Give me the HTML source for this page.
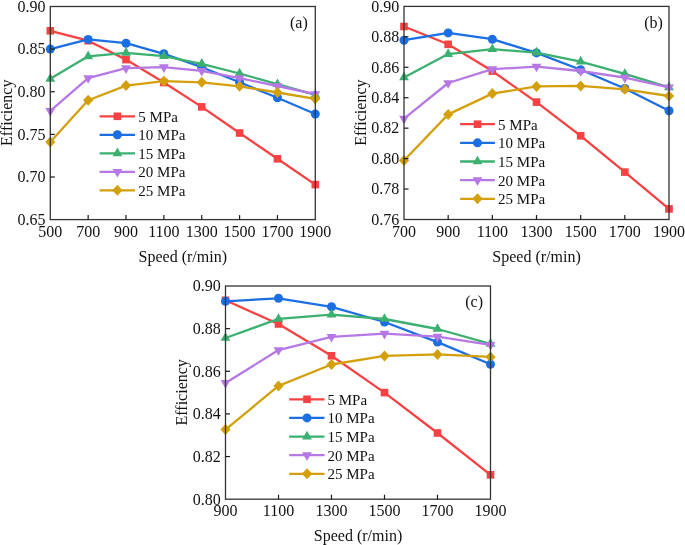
<!DOCTYPE html>
<html><head><meta charset="utf-8"><style>
html,body{margin:0;padding:0;background:#fff;}
svg{display:block;will-change:transform;}
text{font-family:"Liberation Serif", serif;font-size:16px;fill:#111;}
</style></head><body>
<svg width="685" height="545" viewBox="0 0 685 545">
<rect width="685" height="545" fill="#fff"/>
<polyline points="50.30,30.80 88.16,40.70 126.01,59.60 163.87,82.50 201.73,106.90 239.59,133.00 277.44,158.80 315.30,184.60" fill="none" stroke="#F64242" stroke-width="2.3" stroke-linejoin="round"/>
<rect x="46.50" y="27.00" width="7.60" height="7.60" fill="#F64242"/>
<rect x="84.36" y="36.90" width="7.60" height="7.60" fill="#F64242"/>
<rect x="122.21" y="55.80" width="7.60" height="7.60" fill="#F64242"/>
<rect x="160.07" y="78.70" width="7.60" height="7.60" fill="#F64242"/>
<rect x="197.93" y="103.10" width="7.60" height="7.60" fill="#F64242"/>
<rect x="235.79" y="129.20" width="7.60" height="7.60" fill="#F64242"/>
<rect x="273.64" y="155.00" width="7.60" height="7.60" fill="#F64242"/>
<rect x="311.50" y="180.80" width="7.60" height="7.60" fill="#F64242"/>
<polyline points="50.30,49.10 88.16,39.40 126.01,43.20 163.87,53.80 201.73,67.20 239.59,82.20 277.44,97.80 315.30,114.00" fill="none" stroke="#1C6EE3" stroke-width="2.3" stroke-linejoin="round"/>
<circle cx="50.30" cy="49.10" r="4.5" fill="#1C6EE3"/>
<circle cx="88.16" cy="39.40" r="4.5" fill="#1C6EE3"/>
<circle cx="126.01" cy="43.20" r="4.5" fill="#1C6EE3"/>
<circle cx="163.87" cy="53.80" r="4.5" fill="#1C6EE3"/>
<circle cx="201.73" cy="67.20" r="4.5" fill="#1C6EE3"/>
<circle cx="239.59" cy="82.20" r="4.5" fill="#1C6EE3"/>
<circle cx="277.44" cy="97.80" r="4.5" fill="#1C6EE3"/>
<circle cx="315.30" cy="114.00" r="4.5" fill="#1C6EE3"/>
<polyline points="50.30,78.80 88.16,56.30 126.01,52.80 163.87,56.20 201.73,63.80 239.59,73.50 277.44,84.20 315.30,94.80" fill="none" stroke="#3BB070" stroke-width="2.3" stroke-linejoin="round"/>
<path d="M50.30,73.07 L55.20,81.67 L45.40,81.67 Z" fill="#3BB070"/>
<path d="M88.16,50.57 L93.06,59.17 L83.26,59.17 Z" fill="#3BB070"/>
<path d="M126.01,47.07 L130.91,55.67 L121.11,55.67 Z" fill="#3BB070"/>
<path d="M163.87,50.47 L168.77,59.07 L158.97,59.07 Z" fill="#3BB070"/>
<path d="M201.73,58.07 L206.63,66.67 L196.83,66.67 Z" fill="#3BB070"/>
<path d="M239.59,67.77 L244.49,76.37 L234.69,76.37 Z" fill="#3BB070"/>
<path d="M277.44,78.47 L282.34,87.07 L272.54,87.07 Z" fill="#3BB070"/>
<path d="M315.30,89.07 L320.20,97.67 L310.40,97.67 Z" fill="#3BB070"/>
<polyline points="50.30,110.90 88.16,78.10 126.01,68.20 163.87,67.20 201.73,70.80 239.59,78.20 277.44,86.00 315.30,94.20" fill="none" stroke="#B678E4" stroke-width="2.3" stroke-linejoin="round"/>
<path d="M45.40,108.03 L55.20,108.03 L50.30,116.63 Z" fill="#B678E4"/>
<path d="M83.26,75.23 L93.06,75.23 L88.16,83.83 Z" fill="#B678E4"/>
<path d="M121.11,65.33 L130.91,65.33 L126.01,73.93 Z" fill="#B678E4"/>
<path d="M158.97,64.33 L168.77,64.33 L163.87,72.93 Z" fill="#B678E4"/>
<path d="M196.83,67.93 L206.63,67.93 L201.73,76.53 Z" fill="#B678E4"/>
<path d="M234.69,75.33 L244.49,75.33 L239.59,83.93 Z" fill="#B678E4"/>
<path d="M272.54,83.13 L282.34,83.13 L277.44,91.73 Z" fill="#B678E4"/>
<path d="M310.40,91.33 L320.20,91.33 L315.30,99.93 Z" fill="#B678E4"/>
<polyline points="50.30,142.10 88.16,100.30 126.01,85.60 163.87,81.20 201.73,82.30 239.59,86.30 277.44,92.50 315.30,98.80" fill="none" stroke="#D3A00C" stroke-width="2.3" stroke-linejoin="round"/>
<path d="M50.30,136.60 L55.40,142.10 L50.30,147.60 L45.20,142.10 Z" fill="#D3A00C"/>
<path d="M88.16,94.80 L93.26,100.30 L88.16,105.80 L83.06,100.30 Z" fill="#D3A00C"/>
<path d="M126.01,80.10 L131.11,85.60 L126.01,91.10 L120.91,85.60 Z" fill="#D3A00C"/>
<path d="M163.87,75.70 L168.97,81.20 L163.87,86.70 L158.77,81.20 Z" fill="#D3A00C"/>
<path d="M201.73,76.80 L206.83,82.30 L201.73,87.80 L196.63,82.30 Z" fill="#D3A00C"/>
<path d="M239.59,80.80 L244.69,86.30 L239.59,91.80 L234.49,86.30 Z" fill="#D3A00C"/>
<path d="M277.44,87.00 L282.54,92.50 L277.44,98.00 L272.34,92.50 Z" fill="#D3A00C"/>
<path d="M315.30,93.30 L320.40,98.80 L315.30,104.30 L310.20,98.80 Z" fill="#D3A00C"/>
<rect x="50.3" y="6.5" width="265.00" height="213.10" fill="none" stroke="#333" stroke-width="1.3"/>
<line x1="88.16" y1="219.6" x2="88.16" y2="215.10" stroke="#1a1a1a" stroke-width="1.2"/>
<line x1="126.01" y1="219.6" x2="126.01" y2="215.10" stroke="#1a1a1a" stroke-width="1.2"/>
<line x1="163.87" y1="219.6" x2="163.87" y2="215.10" stroke="#1a1a1a" stroke-width="1.2"/>
<line x1="201.73" y1="219.6" x2="201.73" y2="215.10" stroke="#1a1a1a" stroke-width="1.2"/>
<line x1="239.59" y1="219.6" x2="239.59" y2="215.10" stroke="#1a1a1a" stroke-width="1.2"/>
<line x1="277.44" y1="219.6" x2="277.44" y2="215.10" stroke="#1a1a1a" stroke-width="1.2"/>
<line x1="50.3" y1="176.98" x2="54.80" y2="176.98" stroke="#1a1a1a" stroke-width="1.2"/>
<line x1="50.3" y1="134.36" x2="54.80" y2="134.36" stroke="#1a1a1a" stroke-width="1.2"/>
<line x1="50.3" y1="91.74" x2="54.80" y2="91.74" stroke="#1a1a1a" stroke-width="1.2"/>
<line x1="50.3" y1="49.12" x2="54.80" y2="49.12" stroke="#1a1a1a" stroke-width="1.2"/>
<text x="50.30" y="236.80" text-anchor="middle">500</text>
<text x="88.16" y="236.80" text-anchor="middle">700</text>
<text x="126.01" y="236.80" text-anchor="middle">900</text>
<text x="163.87" y="236.80" text-anchor="middle">1100</text>
<text x="201.73" y="236.80" text-anchor="middle">1300</text>
<text x="239.59" y="236.80" text-anchor="middle">1500</text>
<text x="277.44" y="236.80" text-anchor="middle">1700</text>
<text x="315.30" y="236.80" text-anchor="middle">1900</text>
<text x="45.50" y="224.90" text-anchor="end">0.65</text>
<text x="45.50" y="182.28" text-anchor="end">0.70</text>
<text x="45.50" y="139.66" text-anchor="end">0.75</text>
<text x="45.50" y="97.04" text-anchor="end">0.80</text>
<text x="45.50" y="54.42" text-anchor="end">0.85</text>
<text x="45.50" y="11.80" text-anchor="end">0.90</text>
<text x="182.80" y="261.80" text-anchor="middle">Speed (r/min)</text>
<text transform="translate(11.80,112.75) rotate(-90)" text-anchor="middle">Efficiency</text>
<text x="307.80" y="27.80" text-anchor="end">(a)</text>
<line x1="99.6" y1="116.30" x2="135" y2="116.30" stroke="#F64242" stroke-width="2.3"/>
<rect x="113.60" y="112.50" width="7.60" height="7.60" fill="#F64242"/>
<text x="138.3" y="121.80" style="font-size:15px">5 MPa</text>
<line x1="99.6" y1="134.80" x2="135" y2="134.80" stroke="#1C6EE3" stroke-width="2.3"/>
<circle cx="117.40" cy="134.80" r="4.5" fill="#1C6EE3"/>
<text x="138.3" y="140.30" style="font-size:15px">10 MPa</text>
<line x1="99.6" y1="153.30" x2="135" y2="153.30" stroke="#3BB070" stroke-width="2.3"/>
<path d="M117.40,147.57 L122.30,156.17 L112.50,156.17 Z" fill="#3BB070"/>
<text x="138.3" y="158.80" style="font-size:15px">15 MPa</text>
<line x1="99.6" y1="171.80" x2="135" y2="171.80" stroke="#B678E4" stroke-width="2.3"/>
<path d="M112.50,168.93 L122.30,168.93 L117.40,177.53 Z" fill="#B678E4"/>
<text x="138.3" y="177.30" style="font-size:15px">20 MPa</text>
<line x1="99.6" y1="190.30" x2="135" y2="190.30" stroke="#D3A00C" stroke-width="2.3"/>
<path d="M117.40,184.80 L122.50,190.30 L117.40,195.80 L112.30,190.30 Z" fill="#D3A00C"/>
<text x="138.3" y="195.80" style="font-size:15px">25 MPa</text>
<polyline points="404.00,26.50 448.17,44.30 492.33,71.10 536.50,102.10 580.67,135.80 624.83,172.10 669.00,208.90" fill="none" stroke="#F64242" stroke-width="2.3" stroke-linejoin="round"/>
<rect x="400.20" y="22.70" width="7.60" height="7.60" fill="#F64242"/>
<rect x="444.37" y="40.50" width="7.60" height="7.60" fill="#F64242"/>
<rect x="488.53" y="67.30" width="7.60" height="7.60" fill="#F64242"/>
<rect x="532.70" y="98.30" width="7.60" height="7.60" fill="#F64242"/>
<rect x="576.87" y="132.00" width="7.60" height="7.60" fill="#F64242"/>
<rect x="621.03" y="168.30" width="7.60" height="7.60" fill="#F64242"/>
<rect x="665.20" y="205.10" width="7.60" height="7.60" fill="#F64242"/>
<polyline points="404.00,40.20 448.17,32.90 492.33,39.20 536.50,52.90 580.67,69.70 624.83,88.50 669.00,110.70" fill="none" stroke="#1C6EE3" stroke-width="2.3" stroke-linejoin="round"/>
<circle cx="404.00" cy="40.20" r="4.5" fill="#1C6EE3"/>
<circle cx="448.17" cy="32.90" r="4.5" fill="#1C6EE3"/>
<circle cx="492.33" cy="39.20" r="4.5" fill="#1C6EE3"/>
<circle cx="536.50" cy="52.90" r="4.5" fill="#1C6EE3"/>
<circle cx="580.67" cy="69.70" r="4.5" fill="#1C6EE3"/>
<circle cx="624.83" cy="88.50" r="4.5" fill="#1C6EE3"/>
<circle cx="669.00" cy="110.70" r="4.5" fill="#1C6EE3"/>
<polyline points="404.00,77.50 448.17,54.10 492.33,49.20 536.50,52.60 580.67,61.60 624.83,73.90 669.00,87.30" fill="none" stroke="#3BB070" stroke-width="2.3" stroke-linejoin="round"/>
<path d="M404.00,71.77 L408.90,80.37 L399.10,80.37 Z" fill="#3BB070"/>
<path d="M448.17,48.37 L453.07,56.97 L443.27,56.97 Z" fill="#3BB070"/>
<path d="M492.33,43.47 L497.23,52.07 L487.43,52.07 Z" fill="#3BB070"/>
<path d="M536.50,46.87 L541.40,55.47 L531.60,55.47 Z" fill="#3BB070"/>
<path d="M580.67,55.87 L585.57,64.47 L575.77,64.47 Z" fill="#3BB070"/>
<path d="M624.83,68.17 L629.73,76.77 L619.93,76.77 Z" fill="#3BB070"/>
<path d="M669.00,81.57 L673.90,90.17 L664.10,90.17 Z" fill="#3BB070"/>
<polyline points="404.00,118.70 448.17,83.00 492.33,69.20 536.50,66.60 580.67,71.00 624.83,77.70 669.00,87.30" fill="none" stroke="#B678E4" stroke-width="2.3" stroke-linejoin="round"/>
<path d="M399.10,115.83 L408.90,115.83 L404.00,124.43 Z" fill="#B678E4"/>
<path d="M443.27,80.13 L453.07,80.13 L448.17,88.73 Z" fill="#B678E4"/>
<path d="M487.43,66.33 L497.23,66.33 L492.33,74.93 Z" fill="#B678E4"/>
<path d="M531.60,63.73 L541.40,63.73 L536.50,72.33 Z" fill="#B678E4"/>
<path d="M575.77,68.13 L585.57,68.13 L580.67,76.73 Z" fill="#B678E4"/>
<path d="M619.93,74.83 L629.73,74.83 L624.83,83.43 Z" fill="#B678E4"/>
<path d="M664.10,84.43 L673.90,84.43 L669.00,93.03 Z" fill="#B678E4"/>
<polyline points="404.00,160.50 448.17,114.40 492.33,93.60 536.50,86.40 580.67,85.90 624.83,89.30 669.00,96.00" fill="none" stroke="#D3A00C" stroke-width="2.3" stroke-linejoin="round"/>
<path d="M404.00,155.00 L409.10,160.50 L404.00,166.00 L398.90,160.50 Z" fill="#D3A00C"/>
<path d="M448.17,108.90 L453.27,114.40 L448.17,119.90 L443.07,114.40 Z" fill="#D3A00C"/>
<path d="M492.33,88.10 L497.43,93.60 L492.33,99.10 L487.23,93.60 Z" fill="#D3A00C"/>
<path d="M536.50,80.90 L541.60,86.40 L536.50,91.90 L531.40,86.40 Z" fill="#D3A00C"/>
<path d="M580.67,80.40 L585.77,85.90 L580.67,91.40 L575.57,85.90 Z" fill="#D3A00C"/>
<path d="M624.83,83.80 L629.93,89.30 L624.83,94.80 L619.73,89.30 Z" fill="#D3A00C"/>
<path d="M669.00,90.50 L674.10,96.00 L669.00,101.50 L663.90,96.00 Z" fill="#D3A00C"/>
<rect x="404.0" y="6.4" width="265.00" height="213.10" fill="none" stroke="#333" stroke-width="1.3"/>
<line x1="448.17" y1="219.5" x2="448.17" y2="215.00" stroke="#1a1a1a" stroke-width="1.2"/>
<line x1="492.33" y1="219.5" x2="492.33" y2="215.00" stroke="#1a1a1a" stroke-width="1.2"/>
<line x1="536.50" y1="219.5" x2="536.50" y2="215.00" stroke="#1a1a1a" stroke-width="1.2"/>
<line x1="580.67" y1="219.5" x2="580.67" y2="215.00" stroke="#1a1a1a" stroke-width="1.2"/>
<line x1="624.83" y1="219.5" x2="624.83" y2="215.00" stroke="#1a1a1a" stroke-width="1.2"/>
<line x1="404.0" y1="189.06" x2="408.50" y2="189.06" stroke="#1a1a1a" stroke-width="1.2"/>
<line x1="404.0" y1="158.61" x2="408.50" y2="158.61" stroke="#1a1a1a" stroke-width="1.2"/>
<line x1="404.0" y1="128.17" x2="408.50" y2="128.17" stroke="#1a1a1a" stroke-width="1.2"/>
<line x1="404.0" y1="97.73" x2="408.50" y2="97.73" stroke="#1a1a1a" stroke-width="1.2"/>
<line x1="404.0" y1="67.29" x2="408.50" y2="67.29" stroke="#1a1a1a" stroke-width="1.2"/>
<line x1="404.0" y1="36.84" x2="408.50" y2="36.84" stroke="#1a1a1a" stroke-width="1.2"/>
<text x="404.00" y="236.70" text-anchor="middle">700</text>
<text x="448.17" y="236.70" text-anchor="middle">900</text>
<text x="492.33" y="236.70" text-anchor="middle">1100</text>
<text x="536.50" y="236.70" text-anchor="middle">1300</text>
<text x="580.67" y="236.70" text-anchor="middle">1500</text>
<text x="624.83" y="236.70" text-anchor="middle">1700</text>
<text x="669.00" y="236.70" text-anchor="middle">1900</text>
<text x="399.20" y="224.80" text-anchor="end">0.76</text>
<text x="399.20" y="194.36" text-anchor="end">0.78</text>
<text x="399.20" y="163.91" text-anchor="end">0.80</text>
<text x="399.20" y="133.47" text-anchor="end">0.82</text>
<text x="399.20" y="103.03" text-anchor="end">0.84</text>
<text x="399.20" y="72.59" text-anchor="end">0.86</text>
<text x="399.20" y="42.14" text-anchor="end">0.88</text>
<text x="399.20" y="11.70" text-anchor="end">0.90</text>
<text x="536.50" y="261.70" text-anchor="middle">Speed (r/min)</text>
<text transform="translate(365.50,112.65) rotate(-90)" text-anchor="middle">Efficiency</text>
<text x="662.90" y="27.70" text-anchor="end">(b)</text>
<line x1="460.1" y1="124.20" x2="494.9" y2="124.20" stroke="#F64242" stroke-width="2.3"/>
<rect x="473.70" y="120.40" width="7.60" height="7.60" fill="#F64242"/>
<text x="498.1" y="129.70" style="font-size:15px">5 MPa</text>
<line x1="460.1" y1="142.85" x2="494.9" y2="142.85" stroke="#1C6EE3" stroke-width="2.3"/>
<circle cx="477.50" cy="142.85" r="4.5" fill="#1C6EE3"/>
<text x="498.1" y="148.35" style="font-size:15px">10 MPa</text>
<line x1="460.1" y1="161.50" x2="494.9" y2="161.50" stroke="#3BB070" stroke-width="2.3"/>
<path d="M477.50,155.77 L482.40,164.37 L472.60,164.37 Z" fill="#3BB070"/>
<text x="498.1" y="167.00" style="font-size:15px">15 MPa</text>
<line x1="460.1" y1="180.15" x2="494.9" y2="180.15" stroke="#B678E4" stroke-width="2.3"/>
<path d="M472.60,177.28 L482.40,177.28 L477.50,185.88 Z" fill="#B678E4"/>
<text x="498.1" y="185.65" style="font-size:15px">20 MPa</text>
<line x1="460.1" y1="198.80" x2="494.9" y2="198.80" stroke="#D3A00C" stroke-width="2.3"/>
<path d="M477.50,193.30 L482.60,198.80 L477.50,204.30 L472.40,198.80 Z" fill="#D3A00C"/>
<text x="498.1" y="204.30" style="font-size:15px">25 MPa</text>
<polyline points="225.50,300.30 278.50,324.00 331.50,355.80 384.50,392.60 437.50,433.00 490.50,474.80" fill="none" stroke="#F64242" stroke-width="2.3" stroke-linejoin="round"/>
<rect x="221.70" y="296.50" width="7.60" height="7.60" fill="#F64242"/>
<rect x="274.70" y="320.20" width="7.60" height="7.60" fill="#F64242"/>
<rect x="327.70" y="352.00" width="7.60" height="7.60" fill="#F64242"/>
<rect x="380.70" y="388.80" width="7.60" height="7.60" fill="#F64242"/>
<rect x="433.70" y="429.20" width="7.60" height="7.60" fill="#F64242"/>
<rect x="486.70" y="471.00" width="7.60" height="7.60" fill="#F64242"/>
<polyline points="225.50,301.30 278.50,298.30 331.50,306.80 384.50,322.00 437.50,342.10 490.50,364.30" fill="none" stroke="#1C6EE3" stroke-width="2.3" stroke-linejoin="round"/>
<circle cx="225.50" cy="301.30" r="4.5" fill="#1C6EE3"/>
<circle cx="278.50" cy="298.30" r="4.5" fill="#1C6EE3"/>
<circle cx="331.50" cy="306.80" r="4.5" fill="#1C6EE3"/>
<circle cx="384.50" cy="322.00" r="4.5" fill="#1C6EE3"/>
<circle cx="437.50" cy="342.10" r="4.5" fill="#1C6EE3"/>
<circle cx="490.50" cy="364.30" r="4.5" fill="#1C6EE3"/>
<polyline points="225.50,338.00 278.50,318.90 331.50,314.60 384.50,319.00 437.50,329.00 490.50,343.80" fill="none" stroke="#3BB070" stroke-width="2.3" stroke-linejoin="round"/>
<path d="M225.50,332.27 L230.40,340.87 L220.60,340.87 Z" fill="#3BB070"/>
<path d="M278.50,313.17 L283.40,321.77 L273.60,321.77 Z" fill="#3BB070"/>
<path d="M331.50,308.87 L336.40,317.47 L326.60,317.47 Z" fill="#3BB070"/>
<path d="M384.50,313.27 L389.40,321.87 L379.60,321.87 Z" fill="#3BB070"/>
<path d="M437.50,323.27 L442.40,331.87 L432.60,331.87 Z" fill="#3BB070"/>
<path d="M490.50,338.07 L495.40,346.67 L485.60,346.67 Z" fill="#3BB070"/>
<polyline points="225.50,382.90 278.50,350.10 331.50,336.80 384.50,333.70 437.50,336.70 490.50,344.80" fill="none" stroke="#B678E4" stroke-width="2.3" stroke-linejoin="round"/>
<path d="M220.60,380.03 L230.40,380.03 L225.50,388.63 Z" fill="#B678E4"/>
<path d="M273.60,347.23 L283.40,347.23 L278.50,355.83 Z" fill="#B678E4"/>
<path d="M326.60,333.93 L336.40,333.93 L331.50,342.53 Z" fill="#B678E4"/>
<path d="M379.60,330.83 L389.40,330.83 L384.50,339.43 Z" fill="#B678E4"/>
<path d="M432.60,333.83 L442.40,333.83 L437.50,342.43 Z" fill="#B678E4"/>
<path d="M485.60,341.93 L495.40,341.93 L490.50,350.53 Z" fill="#B678E4"/>
<polyline points="225.50,429.60 278.50,385.90 331.50,364.50 384.50,355.90 437.50,354.40 490.50,356.90" fill="none" stroke="#D3A00C" stroke-width="2.3" stroke-linejoin="round"/>
<path d="M225.50,424.10 L230.60,429.60 L225.50,435.10 L220.40,429.60 Z" fill="#D3A00C"/>
<path d="M278.50,380.40 L283.60,385.90 L278.50,391.40 L273.40,385.90 Z" fill="#D3A00C"/>
<path d="M331.50,359.00 L336.60,364.50 L331.50,370.00 L326.40,364.50 Z" fill="#D3A00C"/>
<path d="M384.50,350.40 L389.60,355.90 L384.50,361.40 L379.40,355.90 Z" fill="#D3A00C"/>
<path d="M437.50,348.90 L442.60,354.40 L437.50,359.90 L432.40,354.40 Z" fill="#D3A00C"/>
<path d="M490.50,351.40 L495.60,356.90 L490.50,362.40 L485.40,356.90 Z" fill="#D3A00C"/>
<rect x="225.5" y="286.0" width="265.00" height="213.20" fill="none" stroke="#333" stroke-width="1.3"/>
<line x1="278.50" y1="499.2" x2="278.50" y2="494.70" stroke="#1a1a1a" stroke-width="1.2"/>
<line x1="331.50" y1="499.2" x2="331.50" y2="494.70" stroke="#1a1a1a" stroke-width="1.2"/>
<line x1="384.50" y1="499.2" x2="384.50" y2="494.70" stroke="#1a1a1a" stroke-width="1.2"/>
<line x1="437.50" y1="499.2" x2="437.50" y2="494.70" stroke="#1a1a1a" stroke-width="1.2"/>
<line x1="225.5" y1="456.56" x2="230.00" y2="456.56" stroke="#1a1a1a" stroke-width="1.2"/>
<line x1="225.5" y1="413.92" x2="230.00" y2="413.92" stroke="#1a1a1a" stroke-width="1.2"/>
<line x1="225.5" y1="371.28" x2="230.00" y2="371.28" stroke="#1a1a1a" stroke-width="1.2"/>
<line x1="225.5" y1="328.64" x2="230.00" y2="328.64" stroke="#1a1a1a" stroke-width="1.2"/>
<text x="225.50" y="516.40" text-anchor="middle">900</text>
<text x="278.50" y="516.40" text-anchor="middle">1100</text>
<text x="331.50" y="516.40" text-anchor="middle">1300</text>
<text x="384.50" y="516.40" text-anchor="middle">1500</text>
<text x="437.50" y="516.40" text-anchor="middle">1700</text>
<text x="490.50" y="516.40" text-anchor="middle">1900</text>
<text x="220.70" y="504.50" text-anchor="end">0.80</text>
<text x="220.70" y="461.86" text-anchor="end">0.82</text>
<text x="220.70" y="419.22" text-anchor="end">0.84</text>
<text x="220.70" y="376.58" text-anchor="end">0.86</text>
<text x="220.70" y="333.94" text-anchor="end">0.88</text>
<text x="220.70" y="291.30" text-anchor="end">0.90</text>
<text x="358.00" y="541.40" text-anchor="middle">Speed (r/min)</text>
<text transform="translate(187.00,392.30) rotate(-90)" text-anchor="middle">Efficiency</text>
<text x="483.00" y="307.30" text-anchor="end">(c)</text>
<line x1="289.2" y1="399.30" x2="324.5" y2="399.30" stroke="#F64242" stroke-width="2.3"/>
<rect x="303.20" y="395.50" width="7.60" height="7.60" fill="#F64242"/>
<text x="327.5" y="404.80" style="font-size:15px">5 MPa</text>
<line x1="289.2" y1="417.92" x2="324.5" y2="417.92" stroke="#1C6EE3" stroke-width="2.3"/>
<circle cx="307.00" cy="417.92" r="4.5" fill="#1C6EE3"/>
<text x="327.5" y="423.42" style="font-size:15px">10 MPa</text>
<line x1="289.2" y1="436.54" x2="324.5" y2="436.54" stroke="#3BB070" stroke-width="2.3"/>
<path d="M307.00,430.81 L311.90,439.41 L302.10,439.41 Z" fill="#3BB070"/>
<text x="327.5" y="442.04" style="font-size:15px">15 MPa</text>
<line x1="289.2" y1="455.16" x2="324.5" y2="455.16" stroke="#B678E4" stroke-width="2.3"/>
<path d="M302.10,452.29 L311.90,452.29 L307.00,460.89 Z" fill="#B678E4"/>
<text x="327.5" y="460.66" style="font-size:15px">20 MPa</text>
<line x1="289.2" y1="473.78" x2="324.5" y2="473.78" stroke="#D3A00C" stroke-width="2.3"/>
<path d="M307.00,468.28 L312.10,473.78 L307.00,479.28 L301.90,473.78 Z" fill="#D3A00C"/>
<text x="327.5" y="479.28" style="font-size:15px">25 MPa</text>
</svg>
</body></html>
